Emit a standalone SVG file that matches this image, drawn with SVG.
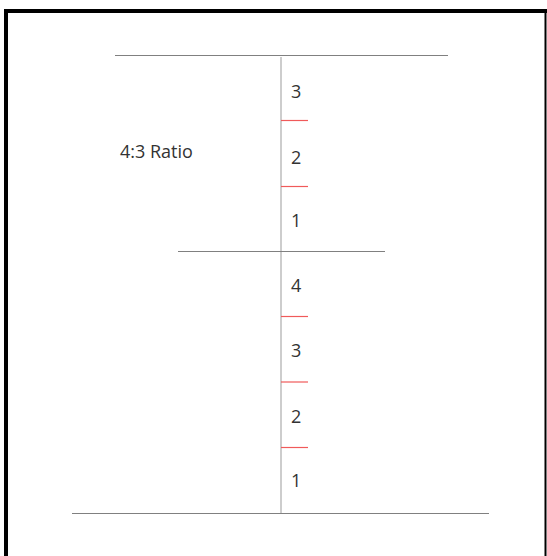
<svg xmlns="http://www.w3.org/2000/svg" width="547" height="556" viewBox="0 0 547 556">
<style>
.frame{stroke:#000;stroke-width:4;fill:none}
.axis{stroke:#bdbdbd;stroke-width:1.5}
.hl{stroke:#808080;stroke-width:1.2}
.tick{stroke:#f05a5a;stroke-width:1.2}
.lbl{font-family:"Open Sans","Liberation Sans",sans-serif;font-size:18px;fill:#333}
</style>
<rect width="547" height="556" fill="#fff"/>
<g id="frame">
<line class="frame" x1="4" y1="11" x2="547" y2="11"/>
<line class="frame" x1="6" y1="9" x2="6" y2="556"/>
<line x1="545.5" y1="9" x2="545.5" y2="556" stroke="#000" stroke-width="2"/>
</g>
<g id="connectors">
<line class="axis" x1="281" y1="57" x2="281" y2="514"/>
<line class="hl" x1="115" y1="55.5" x2="448" y2="55.5"/>
<line class="hl" x1="178" y1="251.5" x2="385" y2="251.5"/>
<line class="hl" x1="72" y1="513.5" x2="489" y2="513.5"/>
<line class="tick" x1="281" y1="120.5" x2="308" y2="120.5"/>
<line class="tick" x1="281" y1="186.5" x2="308" y2="186.5"/>
<line class="tick" x1="281" y1="316.5" x2="308" y2="316.5"/>
<line class="tick" x1="281" y1="382" x2="308" y2="382"/>
<line class="tick" x1="281" y1="447.5" x2="308" y2="447.5"/>
</g>
<g id="title"><text class="lbl" x="120" y="158">4:3 Ratio</text></g>
<g id="upper">
<text class="lbl" x="291" y="98">3</text>
<text class="lbl" x="291" y="164">2</text>
<text class="lbl" x="291" y="227">1</text>
</g>
<g id="lower">
<text class="lbl" x="291" y="292">4</text>
<text class="lbl" x="291" y="357">3</text>
<text class="lbl" x="291" y="423">2</text>
<text class="lbl" x="291" y="487">1</text>
</g>
</svg>
